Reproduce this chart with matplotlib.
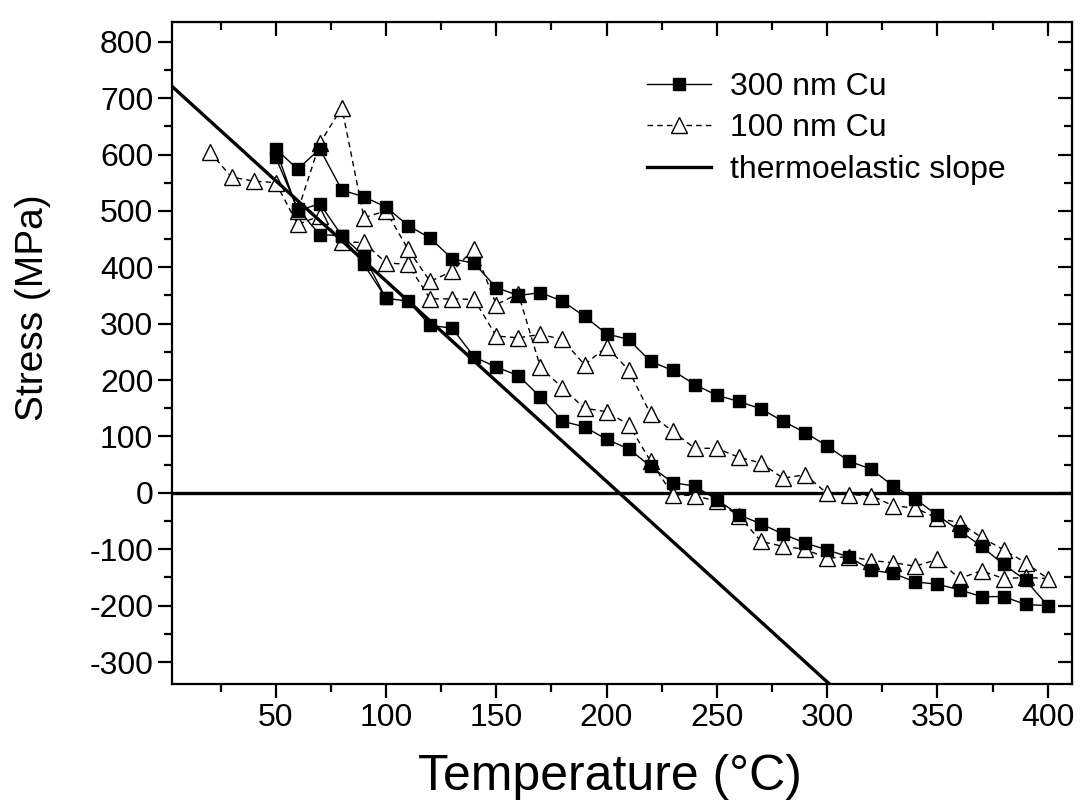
import numpy as np
import matplotlib
matplotlib.use('Agg')
import matplotlib.pyplot as plt

plt.rcParams['font.family'] = ['Liberation Sans', 'DejaVu Sans']
plt.rcParams['axes.unicode_minus'] = False

# 300 nm Cu: heating branch, cooling branch, then second start-up
t_300 = [50, 60, 70, 80, 90, 100, 110, 120, 130, 140, 150, 160, 170, 180, 190,
         200, 210, 220, 230, 240, 250, 260, 270, 280, 290, 300, 310, 320, 330,
         340, 350, 360, 370, 380, 390, 400,
         390, 380, 370, 360, 350, 340, 330, 320, 310, 300, 290, 280, 270, 260,
         250, 240, 230, 220, 210, 200, 190, 180, 170, 160, 150, 140, 130, 120,
         110, 100, 90, 80, 70, 60, 50,
         60, 70, 80, 90, 100]
s_300 = [595, 503, 458, 456, 420, 345, 340, 297, 292, 241, 223, 208, 170, 127, 117,
         95, 78, 47, 18, 12, -12, -39, -55, -73, -89, -101, -114, -137, -143,
         -158, -162, -172, -184, -184, -198, -200,
         -155, -127, -95, -67, -40, -11, 12, 42, 56, 83, 107, 127, 149, 162,
         173, 192, 217, 233, 272, 282, 313, 340, 355, 350, 364, 407, 415, 452,
         474, 507, 525, 537, 610, 574, 610,
         500, 513, 456, 405, 345]

# 100 nm Cu
t_100 = [20, 30, 40, 50, 60, 70, 80, 90, 100, 110, 120, 130, 140, 150, 160,
         170, 180, 190, 200, 210, 220, 230, 240, 250, 260, 270, 280, 290, 300,
         310, 320, 330, 340, 350, 360, 370, 380, 390, 400,
         390, 380, 370, 360, 350, 340, 330, 320, 310, 300, 290, 280, 270, 260,
         250, 240, 230, 220, 210, 200, 190, 180, 170, 160, 150, 140, 130, 120,
         110, 100, 90, 80, 70, 60]
s_100 = [605, 560, 553, 550, 476, 491, 445, 444, 408, 405, 344, 344, 343, 278, 275,
         281, 272, 227, 259, 218, 139, 109, 79, 79, 63, 53, 26, 32, -1,
         -3, -5, -23, -27, -45, -53, -79, -101, -124, -152,
         -150, -152, -138, -152, -118, -130, -124, -120, -113, -116, -100, -95, -86, -41,
         -15, -5, -3, 56, 121, 144, 150, 186, 223, 353, 334, 433, 393, 375,
         432, 500, 488, 683, 620, 500]

# thermoelastic slope (MPa per degC) and its zero crossing
slope = -3.556
t_zero = 205.7
t_line = np.array([0, 320])
s_line = slope * (t_line - t_zero)

fig = plt.figure(figsize=(10.8, 8.05), dpi=100)
ax = fig.add_axes([172/1080, 1-684/805, 900/1080, 662/805])

ax.axhline(0, color='black', lw=2.4, zorder=1)
ax.plot(t_300, s_300, '-', color='black', lw=1.0, marker='s', ms=9,
        mfc='black', mec='black', label='300 nm Cu', zorder=3)
ax.plot(t_100, s_100, '--', color='black', lw=1.0, dashes=(4, 3), marker='^',
        ms=11, mfc='white', mec='black', mew=1.0, label='100 nm Cu', zorder=2)
ax.plot(t_line, s_line, '-', color='black', lw=2.4, label='thermoelastic slope', zorder=4)

ax.set_xlim(3, 411)
ax.set_ylim(-339, 835)
ax.set_xticks(np.arange(50, 401, 50))
ax.set_xticks(np.arange(25, 410, 50), minor=True)
ax.set_yticks(np.arange(-300, 801, 100))
ax.set_yticks(np.arange(-250, 830, 100), minor=True)

ax.tick_params(which='both', direction='out', width=1.6, labelsize=23, top=False, right=False)
ax.tick_params(which='major', length=10)
ax.tick_params(which='minor', length=6)
for sp in ax.spines.values():
    sp.set_linewidth(1.6)

# inward ticks on the right / top border
axr = ax.secondary_yaxis('right')
axr.set_yticks(np.arange(-300, 801, 100))
axr.set_yticks(np.arange(-250, 830, 100), minor=True)
axr.tick_params(which='both', direction='in', width=1.6, labelright=False)
axr.tick_params(which='major', length=10)
axr.tick_params(which='minor', length=6)
axt = ax.secondary_xaxis('top')
axt.set_xticks(np.arange(50, 401, 50))
axt.set_xticks(np.arange(25, 410, 50), minor=True)
axt.tick_params(which='both', direction='in', width=1.6, labeltop=False)
axt.tick_params(which='major', length=10)
axt.tick_params(which='minor', length=6)

ax.set_xlabel('Temperature (°C)', fontsize=36)
ax.set_ylabel('Stress (MPa)', fontsize=28)
ax.xaxis.set_label_coords((610-172)/900, -(754-684)/662)
ax.yaxis.set_label_coords((51-172)/900, (684-308)/662)

ax.legend(loc='upper left', bbox_to_anchor=(647/1080, 1-72/805),
          bbox_transform=fig.transFigure, frameon=False, fontsize=23,
          handlelength=2.0, handletextpad=0.6, labelspacing=0.36,
          borderpad=0, borderaxespad=0, numpoints=1)

fig.savefig('out.png', dpi=100)
